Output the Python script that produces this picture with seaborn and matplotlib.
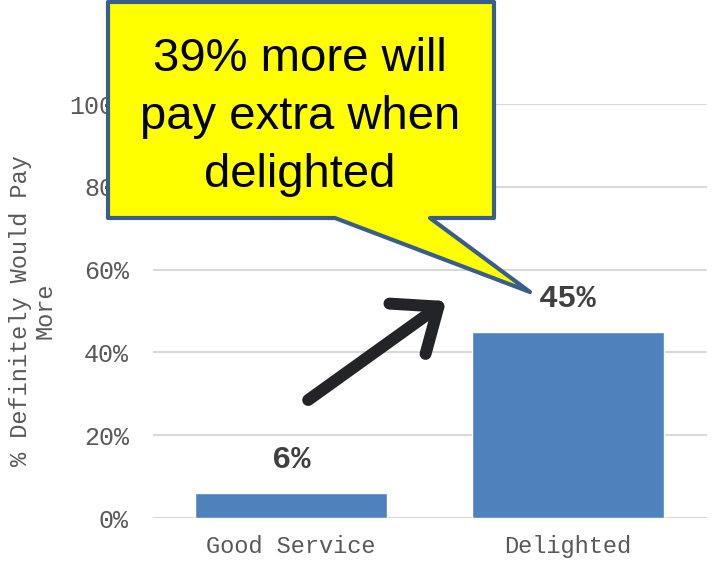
import matplotlib
matplotlib.use("Agg")
import matplotlib.pyplot as plt
from matplotlib.patches import Polygon
from matplotlib.ticker import PercentFormatter
import seaborn as sns
import pandas as pd

# Survey result: share who would definitely pay more
categories = ["Good Service", "Delighted"]
pct_pay_more = [6, 45]
y_ticks = [0, 20, 40, 60, 80, 100]
y_label = "% Definitely Would Pay\nMore"
callout_text = "39% more will\npay extra when\ndelighted"

df = pd.DataFrame({"group": categories, "pct": pct_pay_more})

sns.set_theme(style="white")
plt.rcParams["font.family"] = ["Liberation Mono", "DejaVu Sans Mono"]

W, H = 717, 563
fig = plt.figure(figsize=(W / 100, H / 100), dpi=100)
ax = fig.add_axes([152.5 / W, 1 - 518 / H, (706.5 - 152.5) / W, (518 - 104) / H])

sns.barplot(data=df, x="group", y="pct", color="#4F81BD", saturation=1,
            width=0.694, ax=ax, zorder=3)

ax.set_ylim(0, 100)
ax.set_xlim(-0.5, 1.5)
ax.set_yticks(y_ticks)
ax.yaxis.set_major_formatter(PercentFormatter(decimals=0))
ax.grid(axis="y", color="#D9D9D9", linewidth=1.5, zorder=0)
ax.grid(axis="x", visible=False)
for s in ax.spines.values():
    s.set_visible(False)
ax.tick_params(axis="both", length=0, labelcolor="#595959")
ax.tick_params(axis="y", pad=17, labelsize=18)
ax.tick_params(axis="x", pad=12, labelsize=17)
ax.set_xlabel("")
ax.set_ylabel(y_label, fontsize=17, color="#595959", labelpad=9, linespacing=1.1)

ax.bar_label(ax.containers[0], labels=[f"{v}%" for v in pct_pay_more],
             padding=13, fontsize=23, fontweight="bold", color="#404040")

# Upward arrow from the smaller bar toward the larger one
ax.annotate("", xy=(0.56, 52.4), xytext=(0.062, 28.5),
            arrowprops=dict(arrowstyle="->,head_length=2.74,head_width=2.23",
                            mutation_scale=10, lw=8.6, color="#222428",
                            shrinkA=0, shrinkB=0, capstyle="round",
                            joinstyle="round"),
            zorder=5)

# Speech-bubble callout (pixel coordinates measured from the top-left)
bubble_px = [(108, 2), (494, 2), (494, 218), (430, 218), (530, 292),
             (335, 218), (108, 218)]
bubble = Polygon([(x / W, 1 - y / H) for x, y in bubble_px], closed=True,
                 transform=fig.transFigure, facecolor="#FFFF00",
                 edgecolor="#3A5E8C", linewidth=3, joinstyle="round",
                 zorder=10)
fig.add_artist(bubble)
fig.text(300 / W, 1 - 117 / H, callout_text, ha="center", va="center",
         fontsize=34, family=["Liberation Sans", "DejaVu Sans"],
         color="black", linespacing=1.4, zorder=11)

fig.savefig("out.png", dpi=100)
